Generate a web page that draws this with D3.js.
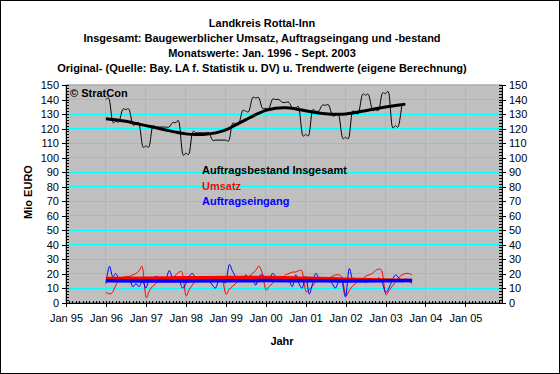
<!DOCTYPE html>
<html>
<head>
<meta charset="utf-8">
<script src="https://cdn.jsdelivr.net/npm/d3@7"></script>
<style>
body { margin: 0; background: #fff; }
svg { display: block; font-family: "Liberation Sans", Arial, sans-serif; }
</style>
</head>
<body>
<div id="vis"></div>
<script>
// set constants
const FRAME_WIDTH = 560;
const FRAME_HEIGHT = 374;
const PLOT = {left: 66, right: 502, top: 85, bottom: 302.5};

// data: monthly values from Jan 1996
const START = new Date(1996, 0, 1);

const TITLE_LINES = [
	"Landkreis Rottal-Inn",
	"Insgesamt: Baugewerblicher Umsatz, Auftragseingang und -bestand",
	"Monatswerte: Jan. 1996 - Sept. 2003",
	"Original- (Quelle: Bay. LA f. Statistik u. DV) u. Trendwerte (eigene Berechnung)"
];

const Y_TICKS = [0, 10, 20, 30, 40, 50, 60, 70, 80, 90, 100, 110, 120, 130, 140, 150];

// Auftragsbestand Insgesamt (Jan 96 - Jun 03)
const BESTAND = [140, 140,
	125, 125, 125, 133, 133, 133, 123, 123, 123, 108, 108, 108,
	121, 121, 121, 121, 121, 121, 124, 124, 124, 103, 103, 103,
	117, 117, 117, 117, 117, 117, 112, 112, 112, 112, 112, 112,
	123, 123, 123, 132, 132, 132, 141, 141, 141, 134, 134, 134,
	140, 140, 140, 138, 138, 138, 134, 134, 134, 116, 116, 116,
	132, 132, 132, 136, 136, 136, 129, 129, 129, 114, 114, 114,
	131, 131, 131, 143, 143, 143, 133, 133, 133, 144, 144, 144,
	122, 122, 122, 137];

// Umsatz (Jan 96 - Sep 03)
const UMSATZ = [
	7, 6, 7, 12, 16, 17, 18, 18, 19, 20, 22, 24,
	4, 8, 11, 13, 16, 17, 16, 16, 16, 19, 21, 20,
	5, 9, 12, 15, 17, 17, 17, 16, 17, 17, 17, 16,
	6, 9, 11, 13, 16, 18, 17, 18, 20, 22, 25, 20,
	9, 11, 13, 15, 16, 17, 19, 20, 21, 21, 22, 21,
	8, 9, 11, 14, 16, 16, 17, 17, 18, 19, 19, 17,
	5, 8, 11, 13, 15, 16, 18, 19, 20, 22, 23, 21,
	6, 8, 11, 14, 17, 19, 20, 20, 19];

// Auftragseingang (Jan 96 - Sep 03)
const EINGANG = [
	13, 25, 18, 20, 16, 17, 16, 17, 11, 13, 11, 15,
	10, 17, 16, 18, 17, 16, 15, 22, 17, 18, 16, 10,
	13, 18, 20, 17, 15, 16, 15, 15, 12, 10, 16, 15,
	14, 26, 22, 18, 17, 16, 19, 17, 18, 12, 18, 19,
	17, 15, 20, 18, 16, 15, 17, 16, 11, 19, 13, 10,
	18, 6, 12, 20, 17, 16, 15, 16, 13, 10, 15, 14,
	4, 23, 17, 16, 15, 16, 14, 15, 16, 15, 17, 14,
	7, 10, 15, 19, 17, 14, 16, 15, 13];

// trend values, month offset from Jan 96
const BESTAND_TREND_MONTH = [0, 3, 6, 9, 12, 15, 18, 21, 24, 27, 30, 33, 36, 39, 42, 45,
	48, 51, 54, 57, 60, 63, 66, 69, 72, 75, 78, 81, 84, 87, 90];
const BESTAND_TREND = [126.8, 126, 125, 123.5, 122, 120.5, 119, 117.5, 116.3, 115.8, 116, 117, 119, 122.5, 126, 129.5,
	132.5, 134, 134.3, 133.5, 132.2, 131, 130.2, 129.8, 130, 131, 132.3, 133.6, 134.8, 135.8, 136.8];

const TREND_MONTH = [0, 12, 24, 36, 48, 60, 72, 84, 92];
const UMSATZ_TREND = [16.6, 16.8, 17.0, 17.2, 17.2, 16.7, 16.1, 15.5, 15.1];
const EINGANG_TREND = [15.0, 14.9, 14.9, 15.0, 15.1, 15.0, 14.9, 15.0, 15.2];

const LEGEND = [
	{label: "Auftragsbestand Insgesamt", color: "#000000"},
	{label: "Umsatz", color: "#ff0000"},
	{label: "Auftragseingang", color: "#0000ff"}
];

const FRAME = d3.select("#vis")
				.append("svg")
					.attr("width", FRAME_WIDTH)
					.attr("height", FRAME_HEIGHT);

// outer border
FRAME.append("rect")
	.attr("x", 0.5).attr("y", 0.5)
	.attr("width", FRAME_WIDTH - 1).attr("height", FRAME_HEIGHT - 1)
	.attr("fill", "#fff")
	.attr("stroke", "#000");

// scales
const X_SCALE = d3.scaleTime()
	.domain([new Date(1995, 0, 1), new Date(2005, 11, 1)])
	.range([PLOT.left, PLOT.right]);

const Y_SCALE = d3.scaleLinear()
	.domain([0, 150])
	.range([PLOT.bottom, PLOT.top]);

const month = (i) => d3.timeMonth.offset(START, i);

// plot background
FRAME.append("rect")
	.attr("x", PLOT.left).attr("y", PLOT.top)
	.attr("width", PLOT.right - PLOT.left)
	.attr("height", PLOT.bottom - PLOT.top)
	.attr("fill", "#c0c0c0")
	.attr("stroke", "#808080");

// gridlines
FRAME.append("g")
	.attr("shape-rendering", "crispEdges")
	.selectAll("line")
	.data(Y_TICKS.slice(1))
	.enter()
	.append("line")
		.attr("x1", PLOT.left).attr("x2", PLOT.right)
		.attr("y1", (d) => Y_SCALE(d)).attr("y2", (d) => Y_SCALE(d))
		.attr("stroke", "#00ffff");

FRAME.append("g")
	.attr("shape-rendering", "crispEdges")
	.selectAll("line")
	.data(X_SCALE.ticks(d3.timeYear).slice(1))
	.enter()
	.append("line")
		.attr("x1", (d) => X_SCALE(d)).attr("x2", (d) => X_SCALE(d))
		.attr("y1", PLOT.top).attr("y2", PLOT.bottom)
		.attr("stroke", "#00ffff");

// axes
const Y_MINOR = d3.range(0, 151, 2);
const X_MINOR = X_SCALE.ticks(d3.timeMonth);

function styleAxis(g) {
	g.attr("shape-rendering", "crispEdges");
	g.selectAll("path, line").attr("stroke", "#000");
	g.selectAll("text").attr("fill", "#000").style("font-size", "11px");
}

// left axis
FRAME.append("g")
	.attr("transform", "translate(" + PLOT.left + ",0)")
	.call(d3.axisLeft(Y_SCALE).tickValues(Y_TICKS).tickSize(4).tickSizeOuter(0).tickPadding(3))
	.call(styleAxis);
FRAME.append("g")
	.attr("transform", "translate(" + PLOT.left + ",0)")
	.call(d3.axisRight(Y_SCALE).tickValues(Y_MINOR).tickSize(3).tickSizeOuter(0).tickFormat(""))
	.call(styleAxis);

// right axis
FRAME.append("g")
	.attr("transform", "translate(" + PLOT.right + ",0)")
	.call(d3.axisRight(Y_SCALE).tickValues(Y_TICKS).tickSize(4).tickSizeOuter(0).tickPadding(3))
	.call(styleAxis);
FRAME.append("g")
	.attr("transform", "translate(" + PLOT.right + ",0)")
	.call(d3.axisLeft(Y_SCALE).tickValues(Y_MINOR).tickSize(3).tickSizeOuter(0).tickFormat(""))
	.call(styleAxis);

// bottom axis
FRAME.append("g")
	.attr("transform", "translate(0," + PLOT.bottom + ")")
	.call(d3.axisBottom(X_SCALE).ticks(d3.timeYear).tickSize(4).tickSizeOuter(0)
		.tickPadding(8).tickFormat(d3.timeFormat("%b %y")))
	.call(styleAxis);
FRAME.append("g")
	.attr("transform", "translate(0," + PLOT.bottom + ")")
	.call(d3.axisTop(X_SCALE).tickValues(X_MINOR).tickSize(2).tickSizeOuter(0).tickFormat(""))
	.call(styleAxis);

// lines
const CURVE = d3.curveCardinal.tension(0);

const rawLine = d3.line()
	.x((d, i) => X_SCALE(month(i)))
	.y((d) => Y_SCALE(d))
	.curve(CURVE);

function trendLine(months) {
	return d3.line()
		.x((d, i) => X_SCALE(month(months[i])))
		.y((d) => Y_SCALE(d))
		.curve(d3.curveMonotoneX);
}

FRAME.append("path").datum(UMSATZ)
	.attr("d", rawLine).attr("fill", "none").attr("stroke", "#ff0000").attr("stroke-width", 1);
FRAME.append("path").datum(EINGANG)
	.attr("d", rawLine).attr("fill", "none").attr("stroke", "#0000ff").attr("stroke-width", 1);
FRAME.append("path").datum(UMSATZ_TREND)
	.attr("d", trendLine(TREND_MONTH)).attr("fill", "none").attr("stroke", "#ff0000").attr("stroke-width", 3.5);
FRAME.append("path").datum(EINGANG_TREND)
	.attr("d", trendLine(TREND_MONTH)).attr("fill", "none").attr("stroke", "#0000ff").attr("stroke-width", 3.5);
FRAME.append("path").datum(BESTAND)
	.attr("d", rawLine).attr("fill", "none").attr("stroke", "#000").attr("stroke-width", 1);
FRAME.append("path").datum(BESTAND_TREND)
	.attr("d", d3.line()
		.x((d, i) => X_SCALE(month(BESTAND_TREND_MONTH[i])))
		.y((d) => Y_SCALE(d))
		.curve(CURVE))
	.attr("fill", "none").attr("stroke", "#000").attr("stroke-width", 3);

// titles
FRAME.append("g")
	.selectAll("text")
	.data(TITLE_LINES)
	.enter()
	.append("text")
		.attr("x", 262)
		.attr("y", (d, i) => 27 + i * 15)
		.attr("text-anchor", "middle")
		.style("font-size", "11px")
		.style("font-weight", "bold")
		.text((d) => d);

// copyright
FRAME.append("text")
	.attr("x", 70).attr("y", 97)
	.style("font-size", "11px")
	.style("font-weight", "bold")
	.text("© StratCon");

// legend texts
FRAME.append("g")
	.selectAll("text")
	.data(LEGEND)
	.enter()
	.append("text")
		.attr("x", 202)
		.attr("y", (d, i) => 174 + i * 15.5)
		.attr("fill", (d) => d.color)
		.style("font-size", "11px")
		.style("font-weight", "bold")
		.text((d) => d.label);

// axis titles
FRAME.append("text")
	.attr("transform", "translate(32,192) rotate(-90)")
	.attr("text-anchor", "middle")
	.style("font-size", "11px")
	.style("font-weight", "bold")
	.text("Mio EURO");

FRAME.append("text")
	.attr("x", 282).attr("y", 345)
	.attr("text-anchor", "middle")
	.style("font-size", "11px")
	.style("font-weight", "bold")
	.text("Jahr");
</script>
</body>
</html>
